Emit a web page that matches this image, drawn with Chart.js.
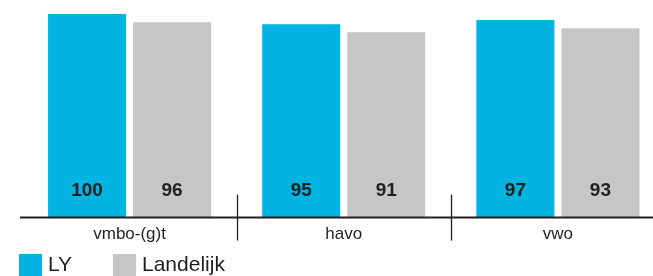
<!DOCTYPE html>
<html>
<head>
<meta charset="utf-8">
<script src="https://cdn.jsdelivr.net/npm/chart.js@4"></script>
<style>
  html, body { margin: 0; padding: 0; background: #fff; overflow: hidden; width: 653px; height: 276px; }
  #wrap { position: relative; width: 665px; height: 276px; }
</style>
</head>
<body>
<div id="wrap"><canvas id="c" width="665" height="276"></canvas></div>
<script>
const categories = ['vmbo-(g)t', 'havo', 'vwo'];
const seriesNames = ['LY', 'Landelijk'];
const lyValues = [100, 95, 97];
const landelijkValues = [96, 91, 93];

const BLUE = '#00b3e0';
const GREY = '#c6c6c6';
const INK = '#231f20';
const FONT = '"Liberation Sans", Arial, Helvetica, sans-serif';

const decor = {
  id: 'decor',
  afterDatasetsDraw(chart) {
    const ctx = chart.ctx;
    const x = chart.scales.x;
    const area = chart.chartArea;
    const y0 = area.bottom;
    ctx.save();
    // value labels inside bars
    ctx.font = 'bold 19px ' + FONT;
    ctx.fillStyle = INK;
    ctx.textAlign = 'center';
    ctx.textBaseline = 'middle';
    chart.data.datasets.forEach((ds, di) => {
      chart.getDatasetMeta(di).data.forEach((bar, i) => {
        ctx.fillText(String(ds.data[i]), bar.x, y0 - 27);
      });
    });
    // axis line
    ctx.strokeStyle = INK;
    ctx.lineWidth = 2;
    ctx.beginPath();
    ctx.moveTo(20, y0);
    ctx.lineTo(chart.width, y0);
    ctx.stroke();
    // separators between categories
    ctx.lineWidth = 1.3;
    for (let i = 0; i < categories.length - 1; i++) {
      const xs = Math.round((x.getPixelForValue(i) + x.getPixelForValue(i + 1)) / 2) + 0.5;
      ctx.beginPath();
      ctx.moveTo(xs, y0 - 23);
      ctx.lineTo(xs, y0 + 23);
      ctx.stroke();
    }
    // legend
    ctx.textAlign = 'left';
    ctx.textBaseline = 'middle';
    ctx.font = '21px ' + FONT;
    const items = [
      { label: seriesNames[0], color: BLUE, x: 19 },
      { label: seriesNames[1], color: GREY, x: 113 }
    ];
    items.forEach(it => {
      ctx.fillStyle = it.color;
      ctx.fillRect(it.x, 254, 23, 22);
      ctx.fillStyle = INK;
      ctx.fillText(it.label, it.x + 29, 265);
    });
    ctx.restore();
  }
};

new Chart(document.getElementById('c'), {
  type: 'bar',
  data: {
    labels: categories,
    datasets: [
      { label: seriesNames[0], data: lyValues, backgroundColor: BLUE, categoryPercentage: 0.794, barPercentage: 0.918 },
      { label: seriesNames[1], data: landelijkValues, backgroundColor: GREY, categoryPercentage: 0.794, barPercentage: 0.918 }
    ]
  },
  options: {
    responsive: false,
    animation: false,
    events: [],
    layout: { padding: { left: 22.5, right: 0, top: 14, bottom: 24 } },
    plugins: { legend: { display: false }, tooltip: { enabled: false } },
    scales: {
      y: { display: false, min: 0, max: 100 },
      x: {
        grid: { display: false, drawTicks: false },
        border: { display: false },
        ticks: { color: INK, font: { family: FONT, size: 17 }, padding: 7 }
      }
    }
  },
  plugins: [decor]
});
</script>
</body>
</html>
